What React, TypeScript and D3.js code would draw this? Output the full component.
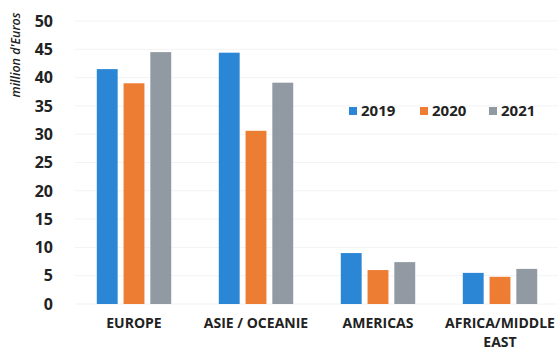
import React from "react";
import * as d3 from "d3";

const categories = ["EUROPE", "ASIE / OCEANIE", "AMERICAS", "AFRICA/MIDDLE EAST"];
const years = ["2019", "2020", "2021"];
const values2019 = [41.5, 44.4, 9.0, 5.5];
const values2020 = [39.0, 30.6, 6.0, 4.8];
const values2021 = [44.5, 39.1, 7.4, 6.2];
const yTicks = [0, 5, 10, 15, 20, 25, 30, 35, 40, 45, 50];
const colors = ["#2B87D6", "#EE7D34", "#9199A2"];

const series = [values2019, values2020, values2021];

export default function App() {
  const W = 558, H = 351;
  const y = d3.scaleLinear().domain([0, 50]).range([304, 21]);
  const x0 = d3.scaleBand().domain(categories).range([73, 561]).paddingInner(0.39).paddingOuter(0.195);
  const x1 = d3.scaleBand().domain(years).range([0, x0.bandwidth()]).paddingInner(0.22);
  const font = "'Open Sans', 'DejaVu Sans', sans-serif";
  const labelLines = (c: string) => c === "AFRICA/MIDDLE EAST" ? ["AFRICA/MIDDLE", "EAST"] : [c];
  const legendX = [349, 420, 489];
  return (
    <svg width={W} height={H} style={{ position: "absolute", left: 0, top: 0, background: "#fff" }}>
      {yTicks.map((t) => (
        <line key={"g" + t} x1={75} x2={558} y1={y(t)} y2={y(t)} stroke="#f3f3f3" strokeWidth={1} />
      ))}
      {yTicks.map((t) => (
        <text key={t} x={53} y={y(t)} dy="0.36em" textAnchor="end" fontFamily={font} fontWeight={700} fontSize={16} fill="#222">
          {t}
        </text>
      ))}
      <text transform="translate(20,55) rotate(-90)" textAnchor="middle" fontFamily={font} fontStyle="italic" fontWeight={600} fontSize={12.5} fill="#222">
        million d'Euros
      </text>
      {categories.map((c, i) => (
        <g key={c} transform={`translate(${x0(c)},0)`}>
          {years.map((yr, j) => (
            <rect key={yr} x={x1(yr)} width={x1.bandwidth()} y={y(series[j][i])} height={y(0) - y(series[j][i])} fill={colors[j]} />
          ))}
        </g>
      ))}
      {categories.map((c) => (
        <text key={"l" + c} x={(x0(c) as number) + x0.bandwidth() / 2} y={328} textAnchor="middle" fontFamily={font} fontWeight={700} fontSize={14} fill="#222">
          {labelLines(c).map((ln, k) => (
            <tspan key={k} x={(x0(c) as number) + x0.bandwidth() / 2} dy={k === 0 ? 0 : 19}>{ln}</tspan>
          ))}
        </text>
      ))}
      {years.map((yr, j) => (
        <g key={"lg" + yr}>
          <rect x={legendX[j]} y={107} width={8} height={8} fill={colors[j]} />
          <text x={legendX[j] + 12} y={111} dy="0.36em" fontFamily={font} fontWeight={700} fontSize={15} fill="#222">{yr}</text>
        </g>
      ))}
    </svg>
  );
}
